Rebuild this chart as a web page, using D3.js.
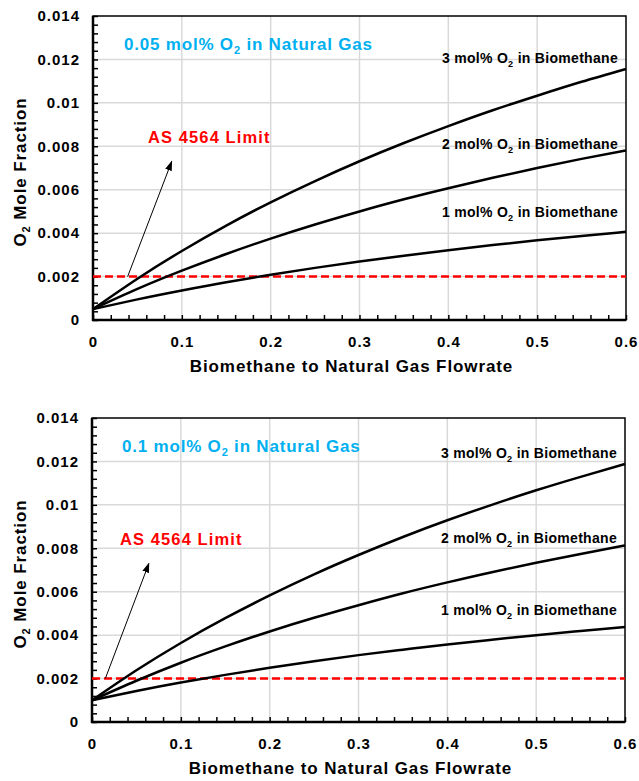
<!DOCTYPE html>
<html>
<head>
<meta charset="utf-8">
<script src="https://cdn.jsdelivr.net/npm/d3@7"></script>
<style>
body{margin:0;background:#fff;}
text{font-family:"Liberation Sans",Arial,sans-serif;font-weight:bold;}
</style>
</head>
<body>
<svg id="chart" width="639" height="781"></svg>
<script>
// flowrate ratio (biomethane / natural gas)
var ratio = [0, 0.05, 0.1, 0.15, 0.2, 0.25, 0.3, 0.35, 0.4, 0.45, 0.5, 0.55, 0.6];

// panel 1 : 0.05 mol% O2 in natural gas
var ng005_bm3 = [0.0005, 0.00190, 0.00318, 0.00435, 0.00542, 0.00640, 0.00731, 0.00815, 0.00893, 0.00966, 0.01033, 0.01097, 0.01156];
var ng005_bm2 = [0.0005, 0.00143, 0.00227, 0.00304, 0.00375, 0.00440, 0.00500, 0.00556, 0.00607, 0.00655, 0.00700, 0.00742, 0.00781];
var ng005_bm1 = [0.0005, 0.00095, 0.00136, 0.00174, 0.00208, 0.00240, 0.00269, 0.00296, 0.00321, 0.00345, 0.00367, 0.00387, 0.00406];

// panel 2 : 0.1 mol% O2 in natural gas
var ng01_bm3 = [0.001, 0.00238, 0.00364, 0.00478, 0.00583, 0.00680, 0.00769, 0.00852, 0.00929, 0.01000, 0.01067, 0.01129, 0.01188];
var ng01_bm2 = [0.001, 0.00190, 0.00273, 0.00348, 0.00417, 0.00480, 0.00538, 0.00593, 0.00643, 0.00690, 0.00733, 0.00774, 0.00813];
var ng01_bm1 = [0.001, 0.00143, 0.00182, 0.00217, 0.00250, 0.00280, 0.00308, 0.00333, 0.00357, 0.00379, 0.00400, 0.00419, 0.00438];

var seriesNames = ["3", "2", "1"];
var limit = 0.002;

var xTicks = [0, 0.1, 0.2, 0.3, 0.4, 0.5, 0.6];
var yTicks = [0, 0.002, 0.004, 0.006, 0.008, 0.01, 0.012, 0.014];

// annotation arrows [x1,y1,x2,y2] in data units
var arrow1 = [0.039, 0.002, 0.0886, 0.0073];
var arrow2 = [0.015, 0.002, 0.064, 0.0073];

var svg = d3.select('#chart');

svg.append('defs').append('marker')
	.attr('id','head')
	.attr('viewBox','0 0 10 10')
	.attr('refX',9).attr('refY',5)
	.attr('markerWidth',10).attr('markerHeight',10)
	.attr('markerUnits','userSpaceOnUse')
	.attr('orient','auto')
	.append('path').attr('d','M0,1.5 L10,5 L0,8.5 Z').attr('fill','#000');

function subText(g, x, y, parts, size, color, anchor, spacing) {
	var t = g.append('text')
		.attr('x',x).attr('y',y)
		.style('font-size',size+'px')
		.style('letter-spacing',(spacing||0)+'px')
		.style('fill',color)
		.style('text-anchor',anchor||'start');
	t.append('tspan').text(parts[0]);
	t.append('tspan').text(parts[1]).style('font-size',(size*0.65)+'px').attr('dy',size*0.25);
	t.append('tspan').text(parts[2]).attr('dy',-size*0.25);
	return t;
}

function panel(box, series, ngLabel, arrow, pos) {
	var x = d3.scaleLinear().domain([0,0.6]).range([box.left, box.right]);
	var y = d3.scaleLinear().domain([0,0.014]).range([box.bottom, box.top]);
	var g = svg.append('g');

	// grid
	g.selectAll('.gx').data(xTicks.slice(1,-1)).enter().append('line')
		.attr('x1',d=>x(d)).attr('x2',d=>x(d))
		.attr('y1',box.top).attr('y2',box.bottom)
		.style('stroke','#d9d9d9').style('stroke-width',1.5);
	g.selectAll('.gy').data(yTicks.slice(1,-1)).enter().append('line')
		.attr('y1',d=>y(d)).attr('y2',d=>y(d))
		.attr('x1',box.left).attr('x2',box.right)
		.style('stroke','#d9d9d9').style('stroke-width',1.5);

	// minor ticks, inward
	g.append('g').attr('transform','translate(0,'+box.bottom+')')
		.call(d3.axisTop(x).tickValues(d3.range(0,0.6001,0.02)).tickSize(5).tickFormat(''))
		.call(a=>a.select('.domain').remove())
		.selectAll('line').style('stroke','#000').style('stroke-width',1.5);
	g.append('g').attr('transform','translate('+box.left+',0)')
		.call(d3.axisRight(y).tickValues(d3.range(0,0.01401,0.0004)).tickSize(5).tickFormat(''))
		.call(a=>a.select('.domain').remove())
		.selectAll('line').style('stroke','#000').style('stroke-width',1.5);

	// tick labels
	g.append('g').attr('transform','translate(0,'+box.bottom+')')
		.call(d3.axisBottom(x).tickValues(xTicks).tickSize(0).tickPadding(16).tickFormat(d3.format('')))
		.call(a=>a.select('.domain').remove())
		.selectAll('text').style('font-size','15px').style('letter-spacing','1px').style('fill','#000').style('font-family','"Liberation Sans",Arial,sans-serif');
	g.append('g').attr('transform','translate('+box.left+',0)')
		.call(d3.axisLeft(y).tickValues(yTicks).tickSize(0).tickPadding(13).tickFormat(d3.format('')))
		.call(a=>a.select('.domain').remove())
		.selectAll('text').style('font-size','15px').style('letter-spacing','1px').style('fill','#000').style('font-family','"Liberation Sans",Arial,sans-serif');

	// frame
	g.append('rect').attr('x',box.left).attr('y',box.top)
		.attr('width',box.right-box.left).attr('height',box.bottom-box.top)
		.style('fill','none').style('stroke','#000').style('stroke-width',1.5);
	g.append('line').attr('x1',box.left).attr('x2',box.left).attr('y1',box.top).attr('y2',box.bottom+1)
		.style('stroke','#000').style('stroke-width',2.5);
	g.append('line').attr('x1',box.left-1).attr('x2',box.right).attr('y1',box.bottom).attr('y2',box.bottom)
		.style('stroke','#000').style('stroke-width',2.5);

	// limit line
	g.append('line').attr('x1',x(0)).attr('x2',x(0.6)).attr('y1',y(limit)).attr('y2',y(limit))
		.style('stroke','#ff0000').style('stroke-width',2.5).style('stroke-dasharray','8,4');

	// curves
	var line = d3.line().x((d,i)=>x(ratio[i])).y(d=>y(d)).curve(d3.curveNatural);
	g.selectAll('.curve').data(series).enter().append('path')
		.attr('d',line)
		.style('fill','none').style('stroke','#000').style('stroke-width',2.5);

	// arrow
	g.append('line')
		.attr('x1',x(arrow[0])).attr('y1',y(arrow[1]))
		.attr('x2',x(arrow[2])).attr('y2',y(arrow[3]))
		.style('stroke','#000').style('stroke-width',1)
		.attr('marker-end','url(#head)');

	// labels
	subText(g, box.left+pos.ngX, box.top+34, [ngLabel+' mol% O','2',' in Natural Gas'], 17, '#00b0f0', 'start', 0.8);
	g.append('text').attr('x',box.left+pos.limX).attr('y',pos.limY)
		.style('font-size','16.5px').style('letter-spacing','1.1px').style('fill','#ff0000').text('AS 4564 Limit');
	series.forEach(function(s,i){
		subText(g, box.right-8, pos.lab[i], [seriesNames[i]+' mol% O','2',' in Biomethane'], 14, '#000', 'end', 0.3);
	});

	// axis titles
	g.append('text').attr('x',(box.left+box.right)/2 - 8).attr('y',box.bottom+52)
		.style('font-size','17px').style('letter-spacing','0.9px').style('text-anchor','middle').text('Biomethane to Natural Gas Flowrate');
	var yt = subText(g, 0, 0, ['O','2',' Mole Fraction'], 17, '#000', 'middle', 0.9);
	yt.attr('transform','translate(26,'+((box.top+box.bottom)/2+4)+') rotate(-90)');
}

panel({left:93, right:626, top:16, bottom:320}, [ng005_bm3, ng005_bm2, ng005_bm1], '0.05', arrow1,
	{ngX:31, limX:55, limY:143, lab:[63,149,217]});
panel({left:92, right:625, top:418, bottom:722}, [ng01_bm3, ng01_bm2, ng01_bm1], '0.1', arrow2,
	{ngX:30, limX:28, limY:545, lab:[458,543,615]});
</script>
</body>
</html>
